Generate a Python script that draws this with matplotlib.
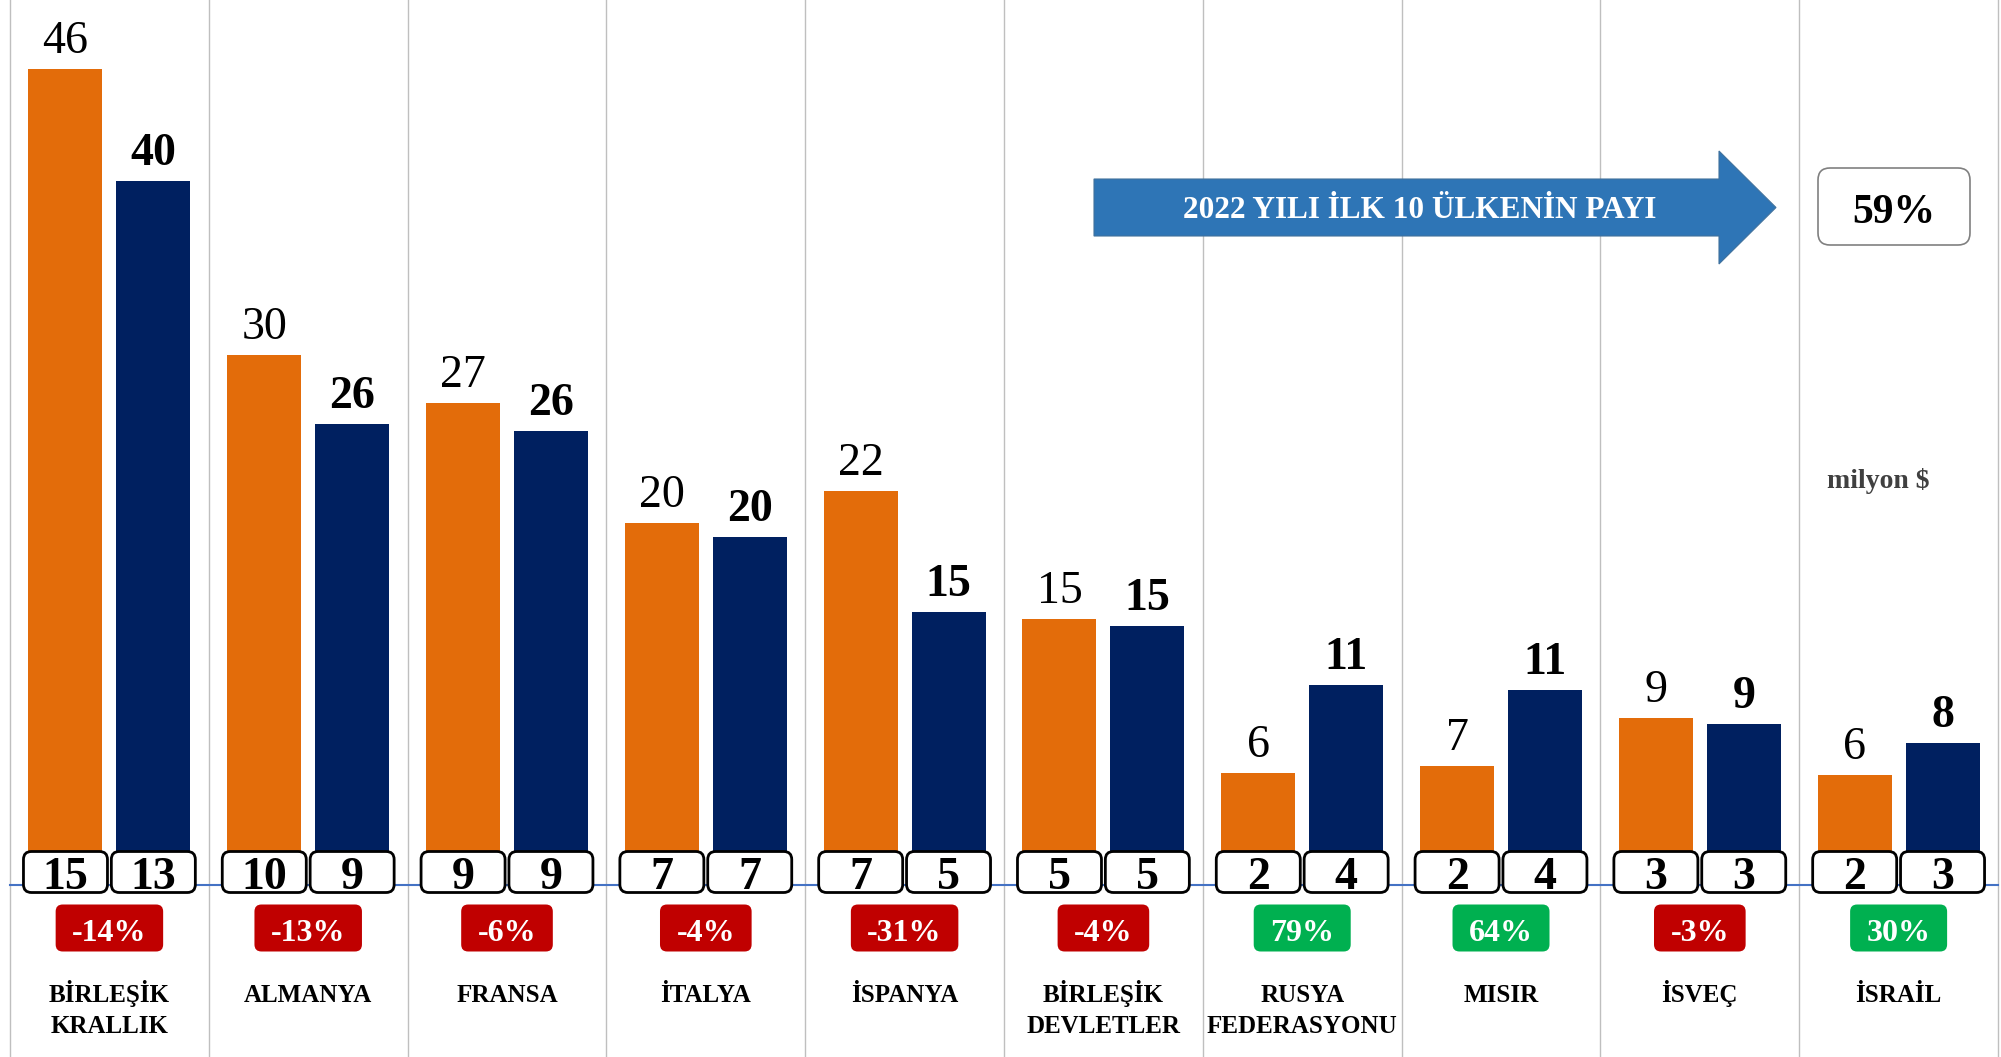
import matplotlib
matplotlib.use('Agg')
import matplotlib.pyplot as plt
import numpy as np
from matplotlib.patches import FancyBboxPatch, Polygon
from matplotlib.transforms import IdentityTransform

# ---------------- data ----------------
countries = ["BİRLEŞİK\nKRALLIK", "ALMANYA", "FRANSA", "İTALYA", "İSPANYA",
             "BİRLEŞİK\nDEVLETLER", "RUSYA\nFEDERASYONU", "MISIR", "İSVEÇ", "İSRAİL"]
v2021 = [46.0, 29.9, 27.2, 20.4, 22.2, 15.0, 6.3, 6.7, 9.4, 6.2]
v2022 = [39.7, 26.0, 25.6, 19.6, 15.4, 14.6, 11.3, 11.0, 9.1, 8.0]
share2021 = [15, 10, 9, 7, 7, 5, 2, 2, 3, 2]
share2022 = [13, 9, 9, 7, 5, 5, 4, 4, 3, 3]
change_pct = [-14, -13, -6, -4, -31, -4, 79, 64, -3, 30]
top10_share = "59%"
arrow_text = "2022 YILI İLK 10 ÜLKENİN PAYI"
unit_text = "milyon $"

ORANGE = "#E36C0A"
NAVY = "#002060"
RED = "#C00000"
GREEN = "#00B050"
FONT = "Liberation Serif"

W, H = 2001, 1057
fig = plt.figure(figsize=(W / 100, H / 100), dpi=100)
ax = fig.add_axes([0, 0, 1, 1])
ax.set_xlim(-0.5503, 9.515)
ax.set_ylim(-9.7, 49.9)
ax.axis('off')

x = np.arange(len(countries))
bw = 0.372
off = 0.221

# gridlines between categories
for b in np.arange(-0.5, len(countries), 1.0):
    ax.axvline(b, color="#BFBFBF", lw=1.0, zorder=0)

ax.bar(x - off, v2021, bw, color=ORANGE, zorder=2)
ax.bar(x + off, v2022, bw, color=NAVY, zorder=2)
ax.plot([-0.5, len(countries) - 0.5], [0, 0], color="#4472C4", lw=1.5, zorder=3)

# value labels above bars
for xi, v in zip(x, v2021):
    ax.annotate(f"{v:.0f}", (xi - off, v), xytext=(0, 11.5), textcoords='offset points',
                ha='center', va='baseline', fontsize=33, family=FONT, color='black')
for xi, v in zip(x, v2022):
    ax.annotate(f"{v:.0f}", (xi + off, v), xytext=(0, 11.5), textcoords='offset points',
                ha='center', va='baseline', fontsize=33, family=FONT, fontweight='bold', color='black')

ident = IdentityTransform()

def top(y):
    return H - y

# share boxes at bar bases
bw_px, bh_px, r = 84, 41, 8
for series, sign in ((share2021, -1), (share2022, 1)):
    for xi, s in zip(x, series):
        cx = ax.transData.transform((xi + sign * off, 0))[0]
        cy = top(872)
        p = FancyBboxPatch((cx - bw_px / 2 + r, cy - bh_px / 2 + r), bw_px - 2 * r, bh_px - 2 * r,
                           boxstyle=f"round,pad={r}", facecolor='white', edgecolor='black',
                           lw=2, transform=ident, zorder=5)
        fig.add_artist(p)
        fig.text(cx, top(889), f"{s}", transform=ident, ha='center', va='baseline',
                 fontsize=33, family=FONT, fontweight='bold', color='black', zorder=6)

renderer = fig.canvas.get_renderer()

# change badges and category labels
for xi, c, name in zip(x, change_pct, countries):
    cx = ax.transData.transform((xi, 0))[0]
    t = fig.text(cx, top(941), f"{c}%", transform=ident, ha='center', va='baseline',
                 fontsize=23, family=FONT, fontweight='bold', color='white', zorder=6)
    bb = t.get_window_extent(renderer)
    w = bb.width + 33
    h = 47
    rr = 7
    cy = top(928)
    p = FancyBboxPatch((cx - w / 2 + rr, cy - h / 2 + rr), w - 2 * rr, h - 2 * rr,
                       boxstyle=f"round,pad={rr}", facecolor=RED if c < 0 else GREEN,
                       edgecolor='none', transform=ident, zorder=5)
    fig.add_artist(p)
    for k, line in enumerate(name.split("\n")):
        fig.text(cx, top(1002 + 31 * k), line, transform=ident, ha='center', va='baseline',
                 fontsize=18, family=FONT, fontweight='bold', color='black', zorder=6)

# arrow
pts = [(1094, 179), (1719, 179), (1719, 151), (1776, 207.5), (1719, 264), (1719, 236), (1094, 236)]
arrow = Polygon([(px, top(py)) for px, py in pts], closed=True, facecolor="#2E75B6",
                edgecolor="#41719C", lw=0.8, transform=ident, zorder=5)
fig.add_artist(arrow)
fig.text(1420, top(218), arrow_text, transform=ident, ha='center', va='baseline',
         fontsize=22.5, family=FONT, fontweight='bold', color='white', zorder=6)

# 59% box
rb = 12
x0, y0, x1, y1 = 1818, 168, 1970, 245
p = FancyBboxPatch((x0 + rb, top(y1) + rb), (x1 - x0) - 2 * rb, (y1 - y0) - 2 * rb,
                   boxstyle=f"round,pad={rb}", facecolor='white', edgecolor='#808080',
                   lw=1.2, transform=ident, zorder=5)
fig.add_artist(p)
fig.text(1894, top(223), top10_share, transform=ident, ha='center', va='baseline',
         fontsize=30, family=FONT, fontweight='bold', color='black', zorder=6)

fig.text(1878, top(488), unit_text, transform=ident, ha='center', va='baseline',
         fontsize=20, family=FONT, fontweight='bold', color='#404040', zorder=6)

fig.savefig("out.png", dpi=100, facecolor='white')
